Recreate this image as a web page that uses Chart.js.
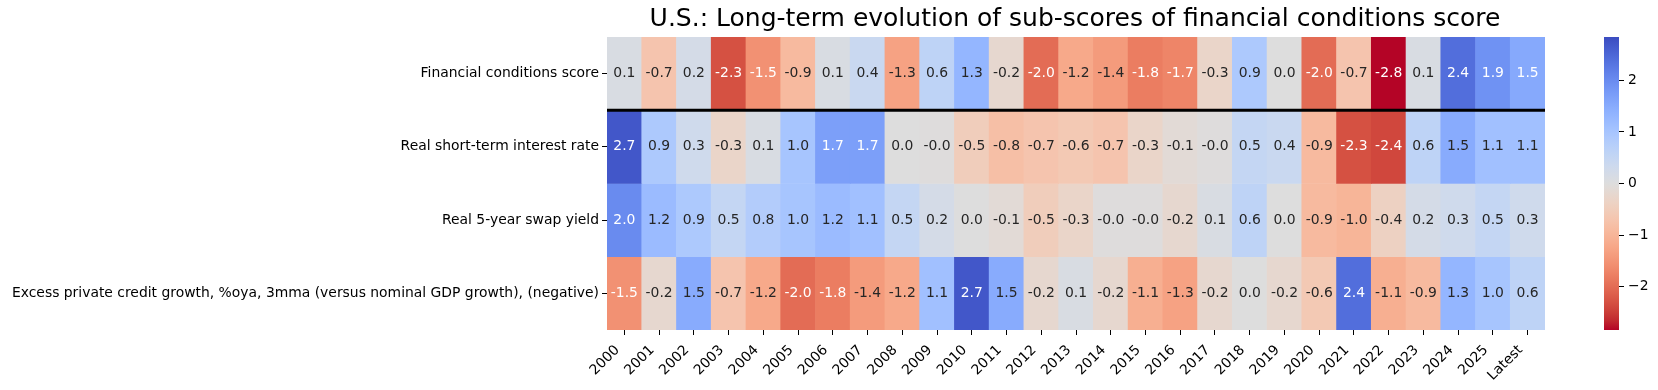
<!DOCTYPE html>
<html>
<head>
<meta charset="utf-8">
<script src="https://cdn.jsdelivr.net/npm/chart.js@4.4.1/dist/chart.umd.min.js"></script>
<style>
  html, body { margin: 0; padding: 0; background: #fff; overflow: hidden; width: 1658px; height: 390px; }
  #wrap { position: relative; width: 1658px; height: 390px; overflow: hidden; background: #fff; }
  #main { position: absolute; left: 0; top: 0; }
  #cbar { position: absolute; left: 0; top: 0; }
</style>
</head>
<body>
<div id="wrap">
  <canvas id="main" width="2150" height="390" style="width:2150px;height:390px"></canvas>
  <canvas id="cbar" width="1658" height="390" style="width:1658px;height:390px"></canvas>
</div>
<script>
// ---------------- data ----------------
const chartTitle = "U.S.: Long-term evolution of sub-scores of financial conditions score";

const years = ["2000","2001","2002","2003","2004","2005","2006","2007","2008","2009",
  "2010","2011","2012","2013","2014","2015","2016","2017","2018","2019",
  "2020","2021","2022","2023","2024","2025","Latest"];

const rowNames = [
  "Financial conditions score",
  "Real short-term interest rate",
  "Real 5-year swap yield",
  "Excess private credit growth, %oya, 3mma (versus nominal GDP growth), (negative)"
];

const financialConditionsScore = [0.1, -0.7, 0.2, -2.3, -1.54, -0.9, 0.1, 0.4, -1.3, 0.6,
  1.3, -0.2, -2.0, -1.2, -1.4, -1.8, -1.7, -0.3, 0.9, 0.0,
  -2.0, -0.7, -2.84, 0.1, 2.4, 1.9, 1.54];

const realShortTermRate = [2.7, 0.9, 0.3, -0.3, 0.1, 1.0, 1.7, 1.7, 0.0, -0.02,
  -0.5, -0.8, -0.7, -0.6, -0.7, -0.3, -0.1, -0.02, 0.5, 0.4,
  -0.9, -2.3, -2.4, 0.6, 1.5, 1.1, 1.1];

const real5ySwapYield = [2.0, 1.2, 0.9, 0.5, 0.8, 1.0, 1.2, 1.1, 0.5, 0.2,
  0.0, -0.1, -0.5, -0.3, -0.02, -0.02, -0.2, 0.1, 0.6, 0.0,
  -0.9, -1.0, -0.4, 0.2, 0.3, 0.5, 0.3];

const excessCreditGrowth = [-1.54, -0.2, 1.5, -0.7, -1.2, -2.0, -1.8, -1.4, -1.2, 1.1,
  2.7, 1.5, -0.2, 0.1, -0.2, -1.1, -1.3, -0.2, 0.0, -0.2,
  -0.6, 2.4, -1.1, -0.9, 1.3, 1.0, 0.6];

const colorLimit = 2.84;
const colorbarTicks = [-2, -1, 0, 1, 2];

// ---------------- colormap (coolwarm, reversed: positive = blue) ----------------
const coolwarm = [
  [59,76,192],[68,90,204],[77,104,215],[87,117,225],[98,130,234],[108,142,241],
  [119,154,247],[130,165,251],[141,176,254],[152,185,255],[163,194,255],[174,201,253],
  [184,208,249],[194,213,244],[204,217,238],[213,219,230],[221,221,221],[229,216,209],
  [236,211,197],[241,204,185],[245,196,173],[247,187,160],[247,177,148],[247,166,135],
  [244,154,123],[241,141,111],[236,127,99],[229,112,88],[222,96,77],[213,80,66],
  [203,62,56],[192,40,47],[180,4,38]
];
function cmapAt(t) {
  t = Math.min(1, Math.max(0, t));
  const n = coolwarm.length - 1;
  const p = t * n;
  const i = Math.min(n - 1, Math.floor(p));
  const f = p - i;
  const a = coolwarm[i], b = coolwarm[i + 1];
  return [0, 1, 2].map(k => a[k] + (b[k] - a[k]) * f);
}
function valueRGB(v) { return cmapAt((colorLimit - v) / (2 * colorLimit)); }
function rgbStr(c) { return `rgb(${Math.round(c[0])},${Math.round(c[1])},${Math.round(c[2])})`; }
function lin(c) { c = c / 255; return c <= 0.03928 ? c / 12.92 : Math.pow((c + 0.055) / 1.055, 2.4); }
function textColorFor(v) {
  const c = valueRGB(v);
  const lum = 0.2126 * lin(c[0]) + 0.7152 * lin(c[1]) + 0.0722 * lin(c[2]);
  return lum > 0.408 ? "rgb(38,38,38)" : "#ffffff";
}

Chart.defaults.font.family = "'DejaVu Sans', sans-serif";
Chart.defaults.color = "#000";

const FS = 13.9;
const rows = [financialConditionsScore, realShortTermRate, real5ySwapYield, excessCreditGrowth];

const datasets = rows.map((vals, r) => ({
  label: rowNames[r],
  data: vals.map(() => [r, r + 1]),
  values: vals,
  backgroundColor: vals.map(v => rgbStr(valueRGB(v))),
  borderWidth: 0,
  borderSkipped: false,
  grouped: false,
  barPercentage: 1,
  categoryPercentage: 1
}));

const cellText = {
  id: "cellText",
  afterDatasetsDraw(chart) {
    const ctx = chart.ctx;
    ctx.save();
    ctx.font = FS + "px 'DejaVu Sans'";
    ctx.textAlign = "center";
    ctx.textBaseline = "middle";
    chart.data.datasets.forEach((ds, di) => {
      const meta = chart.getDatasetMeta(di);
      meta.data.forEach((bar, i) => {
        const v = ds.values[i];
        const p = bar.getProps(["x", "y", "base"], true);
        ctx.fillStyle = textColorFor(v);
        ctx.fillText(v.toFixed(1), p.x, (p.y + p.base) / 2);
      });
    });
    const ys = chart.scales.y.getPixelForValue(1);
    ctx.strokeStyle = "#000";
    ctx.lineWidth = 3;
    ctx.beginPath();
    ctx.moveTo(chart.chartArea.left, ys);
    ctx.lineTo(chart.chartArea.right, ys);
    ctx.stroke();
    ctx.restore();
  }
};

new Chart(document.getElementById("main"), {
  type: "bar",
  data: { labels: years, datasets: datasets },
  plugins: [cellText],
  options: {
    responsive: false,
    animation: false,
    devicePixelRatio: 1,
    layout: { padding: 0 },
    events: [],
    plugins: {
      legend: { display: false },
      tooltip: { enabled: false },
      title: {
        display: true,
        text: chartTitle,
        color: "#000",
        font: { family: "'DejaVu Sans'", size: 25, weight: "normal", lineHeight: 1.2 },
        padding: { top: 4.85, bottom: 2.15 }
      }
    },
    scales: {
      x: {
        type: "category",
        position: "bottom",
        grid: { display: true, offset: false, drawOnChartArea: false, drawTicks: true, tickLength: 5, color: "#000", lineWidth: 1 },
        border: { display: false },
        ticks: { autoSkip: false, maxRotation: 45, minRotation: 45, labelOffset: -7, padding: 7, color: "#000", font: { size: FS } },
        afterFit: s => { s.height = 60; }
      },
      y: {
        type: "linear",
        position: "left",
        min: 0,
        max: 4,
        reverse: true,
        afterBuildTicks: s => { s.ticks = rowNames.map((_, i) => ({ value: i + 0.5 })); },
        grid: { display: true, drawOnChartArea: false, drawTicks: true, tickLength: 5, color: "#000", lineWidth: 1 },
        border: { display: false },
        ticks: { callback: v => rowNames[Math.round(v - 0.5)], padding: 3, color: "#000", font: { size: FS } },
        afterFit: s => { s.width = 607; }
      },
      pad: {
        axis: "y",
        type: "linear",
        position: "right",
        display: true,
        grid: { display: false },
        ticks: { display: false },
        border: { display: false },
        afterFit: s => { s.width = 605; }
      }
    }
  }
});

new Chart(document.getElementById("cbar"), {
  type: "bar",
  data: {
    labels: [""],
    datasets: [{
      data: [[-colorLimit, colorLimit]],
      backgroundColor: c => {
        const chart = c.chart;
        if (!chart.chartArea) return "#ddd";
        const ys = chart.scales.y;
        const g = chart.ctx.createLinearGradient(0, ys.getPixelForValue(colorLimit), 0, ys.getPixelForValue(-colorLimit));
        coolwarm.forEach((col, k) => g.addColorStop(k / (coolwarm.length - 1), rgbStr(col)));
        return g;
      },
      borderWidth: 0,
      borderSkipped: false,
      barPercentage: 1,
      categoryPercentage: 1
    }]
  },
  options: {
    responsive: false,
    animation: false,
    devicePixelRatio: 1,
    events: [],
    layout: { padding: { left: 1604, top: 37, bottom: 60, right: 0 } },
    plugins: { legend: { display: false }, tooltip: { enabled: false }, title: { display: false } },
    scales: {
      x: { display: false },
      y: {
        position: "right",
        min: -colorLimit,
        max: colorLimit,
        afterBuildTicks: s => { s.ticks = colorbarTicks.map(v => ({ value: v })); },
        grid: { display: true, drawOnChartArea: false, drawTicks: true, tickLength: 5, color: "#000", lineWidth: 1 },
        border: { display: false },
        ticks: { callback: v => String(v).replace("-", "\u2212"), padding: 4, color: "#000", font: { size: FS } },
        afterFit: s => { s.width = 39; }
      }
    }
  }
});
</script>
</body>
</html>
